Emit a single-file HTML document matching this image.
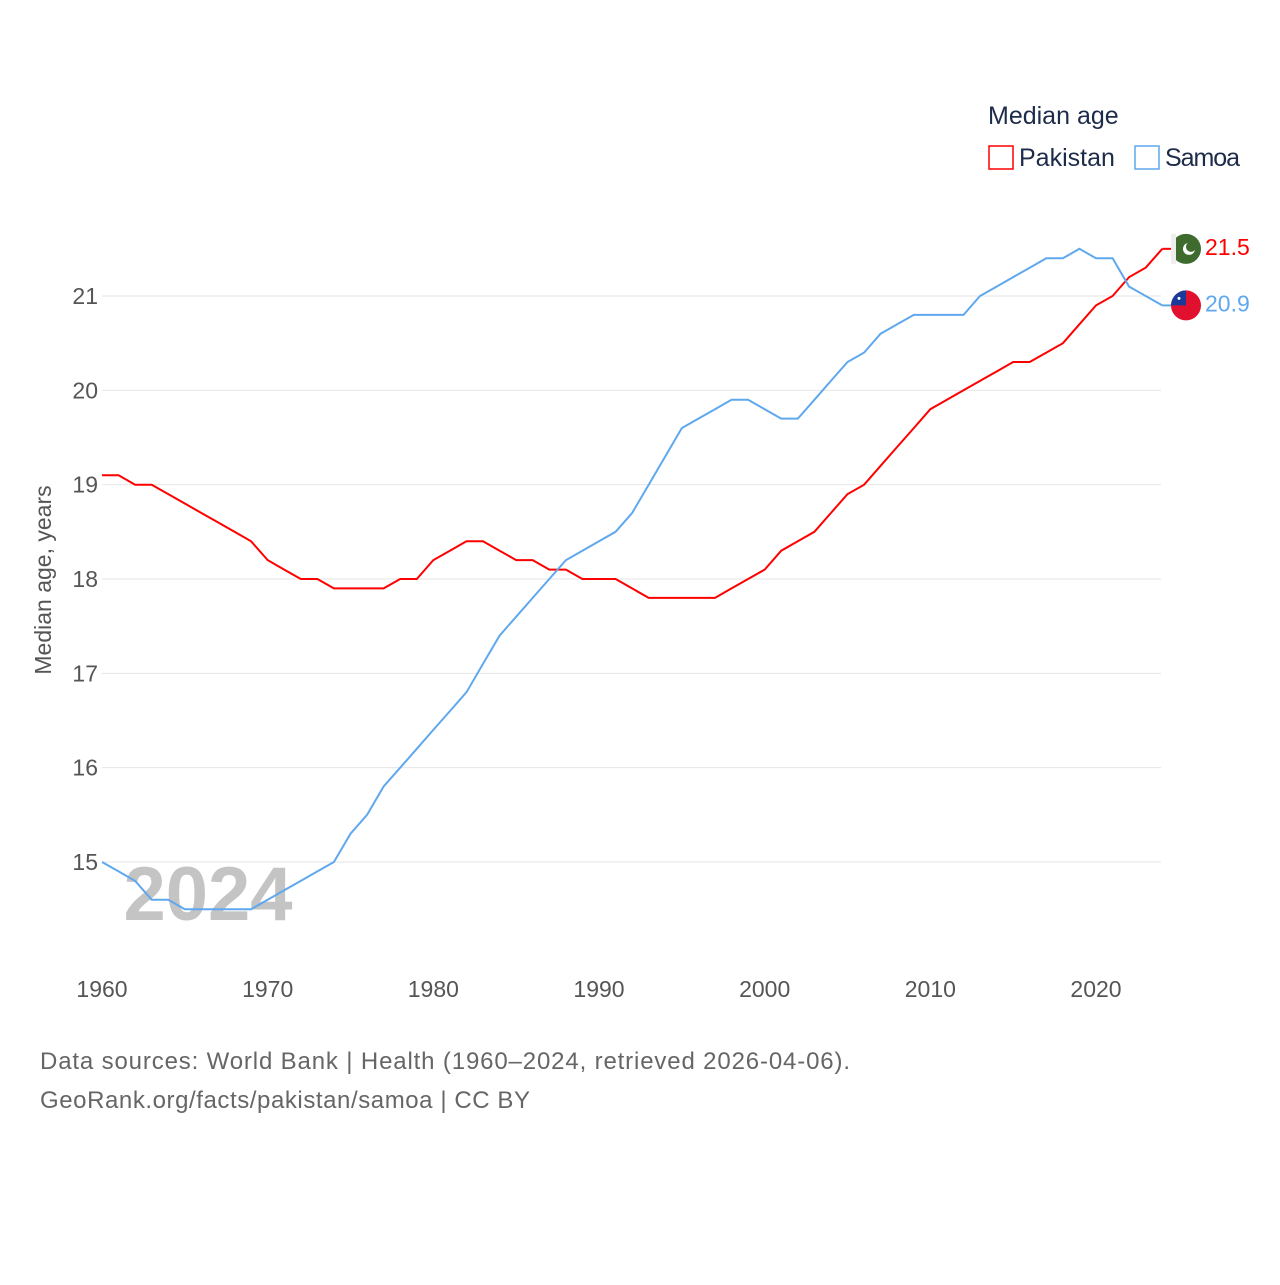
<!DOCTYPE html>
<html><head><meta charset="utf-8"><style>
body{margin:0;background:#fff;font-family:"Liberation Sans",sans-serif;}
svg text{font-family:"Liberation Sans",sans-serif;}
</style></head><body>
<svg id="chart" width="1280" height="1280">
<text x="988" y="124" font-size="25" fill="#1d2b4a">Median age</text>
<rect x="989" y="146" width="24" height="23" fill="none" stroke="#f00" stroke-width="1.5"/>
<text x="1019" y="166" font-size="25" fill="#1d2b4a">Pakistan</text>
<rect x="1135" y="146" width="24" height="23" fill="none" stroke="#5fa8ee" stroke-width="1.5"/>
<text x="1165" y="166" font-size="25" fill="#1d2b4a" textLength="75">Samoa</text>
<g id="grid"></g>
<text x="208" y="920" font-size="76" font-weight="bold" fill="#c4c4c4" text-anchor="middle">2024</text>
<g id="lines"></g>
<text transform="translate(51,580) rotate(-90)" font-size="23" fill="#555" text-anchor="middle">Median age, years</text>
<text x="40" y="1069" font-size="24" fill="#666" textLength="810">Data sources: World Bank | Health (1960–2024, retrieved 2026-04-06).</text>
<text x="40" y="1108" font-size="24" fill="#666" textLength="490">GeoRank.org/facts/pakistan/samoa | CC BY</text>
</svg>
<script>
const years=[];for(let y=1960;y<=2024;y++)years.push(y);
const pakistan=[19.1,19.1,19.0,19.0,18.9,18.8,18.7,18.6,18.5,18.4,18.2,18.1,18.0,18.0,17.9,17.9,17.9,17.9,18.0,18.0,18.2,18.3,18.4,18.4,18.3,18.2,18.2,18.1,18.1,18.0,18.0,18.0,17.9,17.8,17.8,17.8,17.8,17.8,17.9,18.0,18.1,18.3,18.4,18.5,18.7,18.9,19.0,19.2,19.4,19.6,19.8,19.9,20.0,20.1,20.2,20.3,20.3,20.4,20.5,20.7,20.9,21.0,21.2,21.3,21.5];
const samoa=[15.0,14.9,14.8,14.6,14.6,14.5,14.5,14.5,14.5,14.5,14.6,14.7,14.8,14.9,15.0,15.3,15.5,15.8,16.0,16.2,16.4,16.6,16.8,17.1,17.4,17.6,17.8,18.0,18.2,18.3,18.4,18.5,18.7,19.0,19.3,19.6,19.7,19.8,19.9,19.9,19.8,19.7,19.7,19.9,20.1,20.3,20.4,20.6,20.7,20.8,20.8,20.8,20.8,21.0,21.1,21.2,21.3,21.4,21.4,21.5,21.4,21.4,21.1,21.0,20.9];
const yTicks=[15,16,17,18,19,20,21];
const xTicks=[1960,1970,1980,1990,2000,2010,2020];
const NS="http://www.w3.org/2000/svg";
const X=y=>102+(y-1960)*(1096-102)/60;
const Y=v=>862-(v-15)*(862-296)/6;
const grid=document.getElementById('grid'),lines=document.getElementById('lines');
function mk(tag,attrs,parent,txt){const e=document.createElementNS(NS,tag);for(const k in attrs)e.setAttribute(k,attrs[k]);if(txt!=null)e.textContent=txt;parent.appendChild(e);return e;}
yTicks.forEach(t=>{
 const l=mk('line',{x1:102,x2:1161,y1:Y(t),y2:Y(t),stroke:'#e6e6e6','stroke-width':1},grid);
 
 
 const tx=mk('text',{x:98,y:Y(t)+8,'font-size':23,fill:'#555','text-anchor':'end'},grid,t);
 
 
});
xTicks.forEach(t=>{
 const tx=mk('text',{x:X(t),y:997,'font-size':23,fill:'#555','text-anchor':'middle'},grid,t);
 
 
});
function series(vals,color,name){
 const d=vals.map((v,i)=>(i?'L':'M')+X(years[i]).toFixed(1)+','+Y(v).toFixed(1)).join('');
 const p=mk('path',{d:d,fill:'none',stroke:color,'stroke-width':2},lines);
 
 
 const last=vals[vals.length-1];
 const lx=X(2024),ly=Y(last);
 const c=mk('line',{x1:lx,x2:lx+10,y1:ly,y2:ly,stroke:color,'stroke-width':2},lines);
 
 
 const lab=mk('text',{x:1205,y:ly+6,'font-size':23,fill:color},lines,last.toFixed(1));
 
 
 return ly;
}
const py=series(pakistan,'#f00','pakistan');
const sy=series(samoa,'#5fa8ee','samoa');
const fp=mk('g',{},lines);


mk('circle',{cx:1186,cy:py,r:15,fill:'#3f6b2f'},fp);
mk('path',{d:`M1171,${py-15}h5v30h-5z`,fill:'#eee'},fp);
mk('circle',{cx:1189,cy:py,r:6,fill:'#fff'},fp);
mk('circle',{cx:1191,cy:py-2,r:5,fill:'#3f6b2f'},fp);
const fs=mk('g',{},lines);


mk('circle',{cx:1186,cy:sy,r:15,fill:'#e0102e'},fs);
mk('path',{d:`M1171,${sy} A15,15 0 0 1 1186,${sy-15} L1186,${sy} Z`,fill:'#1a3a9a'},fs);
mk('circle',{cx:1179,cy:sy-7,r:1.5,fill:'#fff'},fs);
</script>
</body></html>
